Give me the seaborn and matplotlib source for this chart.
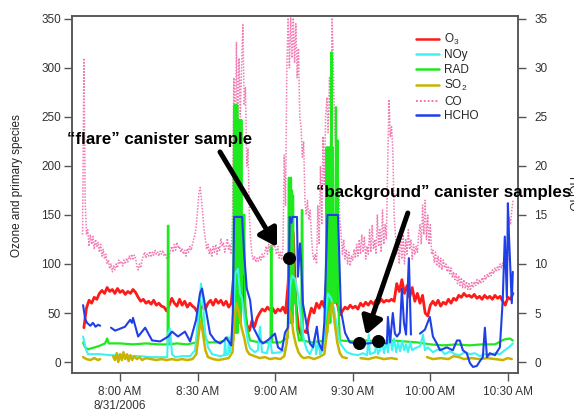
import numpy as np
import pandas as pd
import matplotlib
matplotlib.use('Agg')
import matplotlib.pyplot as plt
import matplotlib.dates as mdates
from matplotlib.lines import Line2D
import seaborn as sns

day = pd.Timestamp('2006-08-31 07:00')

# all times are minutes after 7:00 AM
# O3 (ppb), one value per minute from 7:46
o3_start = 46
o3 = [35, 55, 63, 60, 66, 64, 70, 73, 70, 76,
      72, 74, 70, 75, 71, 73, 69, 72, 70, 74,
      71, 66, 62, 64, 60, 62, 59, 63, 58, 60,
      57, 56, 52, 58, 65, 60, 57, 64, 58, 62,
      56, 60, 57, 55, 50, 53, 57, 54, 60, 63,
      58, 64, 60, 63, 58, 62, 56, 60, 90, 140,
      150, 120, 60, 38, 32, 42, 36, 45, 50, 54,
      52, 56, 53, 55, 50, 54, 52, 56, 50, 80,
      150, 130, 60, 35, 28, 32, 30, 45, 55, 50,
      60, 55, 62, 56, 90, 175, 160, 120, 60, 48,
      52, 56, 54, 58, 55, 57, 54, 60, 57, 61,
      58, 62, 59, 63, 60, 64, 61, 63, 62, 64,
      62, 80, 72, 84, 70, 78, 66, 76, 62, 70,
      60, 68, 50, 47, 58, 62, 58, 63, 57, 61,
      59, 64, 60, 65, 63, 68, 66, 70, 67, 68,
      66, 69, 65, 67, 64, 68, 65, 67, 64, 68,
      65, 67, 62, 58, 66, 64, 70]

# CO, one value every 30 s from 7:45:30
co_start = 45.5
co = [130, 310, 165, 130, 135, 118, 130, 120, 128, 115,
      125, 118, 122, 112, 120, 108, 115, 105, 110, 100,
      104, 95, 100, 92, 98, 94, 100, 96, 104, 100,
      103, 98, 104, 100, 106, 102, 108, 105, 110, 104,
      109, 106, 98, 94, 100, 96, 104, 108, 112, 106,
      110, 108, 113, 107, 112, 109, 114, 110, 112, 108,
      113, 110, 114, 108, 111, 106, 104, 108, 114, 118,
      112, 120, 114, 122, 116, 118, 112, 116, 110, 114,
      108, 116, 112, 118, 114, 120, 126, 130, 140, 155,
      172, 178, 165, 150, 135, 125, 115, 120, 110, 116,
      108, 118, 112, 120, 110, 118, 114, 126, 118, 122,
      112, 118, 126, 114, 120, 110, 150, 290, 210, 326,
      230, 310, 250, 300, 344, 262, 280, 200, 218, 150,
      125, 110, 104, 108, 102, 106, 103, 108, 104, 110,
      106, 112, 118, 110, 120, 112, 122, 114, 124, 116,
      110, 118, 106, 112, 104, 116, 211, 160, 300, 351,
      300, 351, 310, 351, 305, 345, 290, 320, 250, 240,
      209, 225, 165, 150, 165, 145, 155, 130, 110, 104,
      110, 100, 160, 120, 200, 140, 230, 180, 250, 270,
      234, 290, 240, 351, 300, 240, 209, 226, 180, 145,
      130, 110, 125, 105, 115, 100, 112, 98, 108, 104,
      115, 106, 120, 108, 125, 110, 130, 112, 128, 105,
      118, 110, 135, 112, 140, 115, 125, 110, 150, 118,
      135, 112, 155, 120, 140, 125, 200, 268, 230, 240,
      216, 150, 130, 110, 125, 100, 135, 105, 130, 100,
      125, 110, 135, 115, 125, 105, 120, 110, 118, 112,
      130, 140, 120, 160, 130, 165, 125, 150, 120, 140,
      110, 114, 102, 112, 98, 108, 96, 106, 94, 104,
      96, 100, 92, 98, 90, 96, 86, 92, 84, 90,
      80, 88, 78, 86, 76, 84, 75, 82, 74, 80,
      73, 81, 76, 82, 78, 84, 79, 84, 80, 86,
      82, 88, 84, 90, 86, 92, 88, 94, 90, 96,
      92, 98, 94, 100, 96, 101, 98, 104, 100, 104,
      148, 140, 155, 165]

noy_t = [45.7, 46.9, 47.6, 52.3, 56, 60, 64, 67.7, 72, 75.5,
         78.2, 78.6, 79.3, 80.1, 81.3, 84, 87.1, 89.0, 90.2, 91.3,
         92.1, 92.9, 94.0, 95.6, 98.7, 100.3, 100.6, 101.0, 101.8, 102.1,
         102.5, 103.7, 104.5, 105.6, 106.4, 107.2, 108.3, 109.5, 110.3, 112.2,
         113.3, 114.1, 114.9, 116.8, 118.0, 118.8, 121.8, 123.8, 124.9, 125.7,
         126.5, 127.7, 128.8, 130.0, 131.1, 132.3, 133.4, 134.6, 135.4, 135.8,
         136.9, 137.3, 138.5, 139.2, 140.4, 141.6, 142.7, 143.9, 145.0, 146.2,
         147.7, 149.7, 152.0, 153.9, 155.5, 156.2, 156.6, 158.6, 159.3, 159.7,
         160.5, 161.3, 162.1, 162.9, 163.6, 164.4, 165.2, 166.0, 166.8, 167.5,
         168.3, 169.1, 169.9, 170.6, 171.4, 172.2, 173.0, 174.0, 176.0, 177.2,
         177.9, 179.0, 181.0, 183.7, 185.6, 187.6, 189.5, 191.4, 193.3, 195.3,
         197.2, 199.2, 201.1, 203.0, 205.0, 206.9, 208.8, 210.8, 211.9]
noy = [26, 12, 8, 8, 7, 7, 6, 6, 5, 5,
       5, 30, 34, 8, 5, 6, 6, 12, 45, 80,
       60, 30, 15, 8, 6, 7, 22, 7, 8, 25,
       10, 40, 90, 95, 70, 65, 40, 20, 14, 10,
       12, 36, 10, 9, 24, 9, 10, 12, 30, 75,
       88, 85, 70, 45, 22, 12, 8, 15, 26, 8,
       22, 8, 12, 40, 70, 65, 55, 35, 20, 15,
       10, 8, 7, 9, 7, 28, 8, 10, 26, 8,
       12, 20, 9, 22, 10, 30, 12, 24, 10, 20,
       11, 22, 12, 18, 10, 20, 12, 14, 16, 28,
       12, 15, 10, 14, 8, 11, 8, 7, 10, 8,
       9, 6, 8, 7, 9, 8, 12, 16, 19]

rad_t = [45.7, 46.5, 47.6, 50.3, 52.5, 54.2, 55.0, 55.6, 60, 65,
         70, 75, 78.4, 78.5, 78.7, 78.8, 82, 86, 89.5, 90.5,
         90.9, 91.7, 92.9, 94.0, 98, 100.5, 101.5, 102.5, 103.8, 104.1,
         104.3, 104.5, 104.7, 104.9, 105.1, 105.3, 105.5, 105.7, 105.9, 106.1,
         106.3, 106.5, 106.7, 106.9, 107.1, 107.4, 107.7, 108.0, 108.4, 108.8,
         109.5, 110.3, 114, 118.2, 118.4, 118.6, 118.8, 122, 124.9, 125.3,
         125.5, 125.7, 125.9, 126.1, 126.3, 126.5, 126.7, 126.9, 127.2, 127.7,
         128.4, 129.2, 130.1, 130.3, 130.5, 130.7, 134, 137, 139.5, 139.9,
         140.1, 140.4, 140.7, 141.0, 141.3, 141.6, 141.8, 142.0, 142.3, 142.6,
         142.9, 143.3, 143.5, 143.8, 144.1, 144.4, 145.0, 150, 155, 160,
         165, 170, 175, 180, 185, 190, 195, 200, 205, 208.5,
         210.8, 211.9]
rad = [20, 15, 13, 15, 17, 19, 24, 19, 19, 18,
       19, 18, 18, 139, 139, 18, 19, 18, 20, 40,
       63, 40, 25, 20, 20, 22, 25, 20, 22, 262,
       30, 262, 30, 262, 30, 262, 30, 247, 40, 247,
       40, 247, 40, 247, 60, 150, 90, 150, 60, 40,
       30, 22, 20, 20, 117, 117, 20, 20, 25, 188,
       40, 180, 40, 188, 40, 175, 40, 170, 60, 80,
       35, 22, 22, 155, 155, 22, 20, 21, 22, 219,
       30, 219, 40, 219, 40, 240, 316, 60, 219, 60,
       150, 60, 260, 80, 226, 60, 22, 21, 22, 21,
       22, 21, 20, 18, 17, 18, 17, 18, 18, 23,
       24, 22]

so2_t = [45.7, 47.0, 48.5, 50.0, 51.5, 52.3, 54, 57.3, 58.0, 58.7,
         59.3, 60.0, 60.7, 61.3, 62.0, 62.7, 63.3, 64.0, 64.7, 65.5,
         66.5, 67.5, 68.5, 70, 72, 74, 76, 78, 80, 82,
         84, 86, 88, 89.5, 90.5, 91.2, 92.0, 93.0, 94.0, 96,
         98, 100, 102, 103.5, 104.3, 105.0, 106.0, 107.0, 108.0, 109.0,
         110.0, 112, 114, 116, 118, 120, 122, 123.5, 124.5, 125.5,
         126.3, 127.0, 128.0, 129.0, 130.0, 131, 133, 135, 137, 139,
         140, 141, 142, 143, 144, 145, 146, 147.7, 150, 153,
         156, 159, 162, 165, 167, 172, 178.7, 181, 184, 187,
         189, 191, 193, 196, 199, 202, 205, 208, 210, 211.5]
so2 = [5, 3, 2, 4, 2, 3, None, 6, 2, 9,
       0, 8, 2, 10, 3, 8, 1, 7, 2, 6,
       3, 5, 2, 4, 3, 2, 3, 2, 3, 2,
       3, 2, 3, 8, 30, 42, 30, 12, 5, 3,
       2, 3, 4, 10, 45, 60, 50, 35, 25, 12,
       8, 6, 4, 5, 3, 4, 3, 6, 20, 53,
       46, 30, 18, 10, 6, 4, 5, 3, 5, 8,
       30, 50, 60, 40, 20, 9, 5, 4, None, 4,
       3, 5, 3, 4, 3, None, 5, 3, 4, 3,
       6, 5, 3, 4, 3, 4, 3, 2, 4, 3]

# HCHO on the right axis
hcho_t = [45.7, 46.5, 47.2, 48.5, 49.5, 50.5, 51.5, 52.3, 54, 56.5,
          58.1, 60.0, 61.9, 63.9, 64.6, 65.0, 67.0, 69.7, 72.4, 75.5,
          78.6, 80.1, 82.4, 85.1, 87.1, 89.4, 90.9, 91.7, 93.2, 94.8,
          96.7, 98.7, 100.2, 101.0, 102.5, 103.0, 103.6, 104.1, 107.2, 108.0,
          109.0, 110.3, 111.4, 114.1, 115.3, 117.5, 119.9, 121.1, 122.6, 123.8,
          124.9, 125.6, 126.3, 126.6, 128.4, 128.8, 129.6, 130.0, 130.7, 132.3,
          133.4, 134.6, 136.1, 136.8, 138.1, 139.0, 140.2, 144.3, 145.4, 147.0,
          148.9, 152.0, 156.0, 160.0, 163.2, 163.6, 164.4, 165.5, 166.3, 167.1,
          168.2, 169.0, 169.8, 170.6, 171.7, 172.5, 174, 176.0, 177.9, 179.8,
          181.0, 182.5, 183.7, 186.4, 188.7, 190.3, 191.4, 192.6, 194.1, 195.3,
          196.5, 198.0, 199.2, 200.3, 201.1, 201.9, 203.0, 205.0, 206.9, 208.0,
          208.8, 209.6, 210.0, 210.4, 211.5, 211.9]
hcho = [5.8, 4.4, 4.0, 3.7, 4.0, 3.6, 3.8, 3.7, None, 3.5,
        3.2, 3.4, 3.6, 4.3, 4.0, 4.5, 2.6, 3.5, 2.2, 2.1,
        2.6, 3.1, 2.6, 3.1, 2.1, 4.3, 7.0, 7.5, 5.3, 2.9,
        2.2, 1.9, 2.2, 2.5, 1.9, 1.7, 5.0, 14.8, 14.8, 11.0,
        7.5, 6.3, 3.6, 2.2, 1.9, 2.3, 2.9, 1.5, 1.2, 3.0,
        3.5, 14.8, 14.2, 14.8, 14.8, 8.7, 12.1, 10.5, 6.0, 3.6,
        1.9, 1.5, 3.6, 2.0, 1.2, 4.0, 15.0, 15.0, 5.3, 3.0,
        2.0, 1.9, 1.9, 2.0, 1.9, 4.6, 2.0, 5.0, 2.9, 2.6,
        3.0, 7.5, 4.0, 2.8, 10.6, 2.8, None, 2.9, 3.3, 4.6,
        2.6, 1.9, 1.2, 1.5, 1.2, 2.2, 2.2, 1.2, 0.9, -0.1,
        -0.5, -0.4, 0.1, 0.5, 3.5, 0.5, 0.9, 0.7, 1.5, 6.3,
        12.8, 6.6, 16.2, 13.0, 6.0, 9.2]

# canister samples (black dots, on the HCHO scale)
sample_t = [125.4, 152.4, 159.6]
sample_hcho = [10.6, 1.94, 2.17]

tick_min = [60, 90, 120, 150, 180, 210]
tick_labels = ['8:00 AM\n8/31/2006', '8:30 AM', '9:00 AM', '9:30 AM',
               '10:00 AM', '10:30 AM']


def frame(minutes, values):
    df = pd.DataFrame({'minute': minutes, 'value': values}, dtype=float)
    df['seg'] = df['value'].isna().cumsum()
    df = df.dropna()
    df['time'] = day + pd.to_timedelta(df['minute'], unit='min')
    return df


def tnum(m):
    return mdates.date2num(day + pd.Timedelta(minutes=m))


sns.set_style('white')
plt.rcParams['font.family'] = ['Liberation Sans', 'DejaVu Sans']
plt.rcParams['mathtext.default'] = 'regular'

colors = {'O3': '#ff1a1a', 'NOy': '#3ff2f2', 'RAD': '#1ee81e',
          'SO2': '#c8b400', 'CO': '#f27bb3', 'HCHO': '#1f3fe8'}

fig, ax = plt.subplots(figsize=(5.74, 4.09), dpi=100)
fig.subplots_adjust(left=0.1254, right=0.9024, bottom=0.088, top=0.961)
ax2 = ax.twinx()

co_df = frame(co_start + 0.5 * np.arange(len(co)), co)
sns.lineplot(data=co_df, x='time', y='value', units='seg', estimator=None,
             color=colors['CO'], lw=1.1, linestyle=(0, (1, 1)), ax=ax, legend=False)
o3_df = frame(o3_start + np.arange(len(o3)), o3)
sns.lineplot(data=o3_df, x='time', y='value', units='seg', estimator=None,
             color=colors['O3'], lw=2.0, ax=ax, legend=False)
sns.lineplot(data=frame(rad_t, rad), x='time', y='value', units='seg', estimator=None,
             color=colors['RAD'], lw=1.6, ax=ax, legend=False)
sns.lineplot(data=frame(noy_t, noy), x='time', y='value', units='seg', estimator=None,
             color=colors['NOy'], lw=1.5, ax=ax, legend=False)
sns.lineplot(data=frame(so2_t, so2), x='time', y='value', units='seg', estimator=None,
             color=colors['SO2'], lw=1.8, ax=ax, legend=False)

sns.lineplot(data=frame(hcho_t, hcho), x='time', y='value', units='seg', estimator=None,
             color=colors['HCHO'], lw=1.5, ax=ax2, legend=False)
samp = frame(sample_t, sample_hcho)
sns.scatterplot(data=samp, x='time', y='value', color='black', s=75,
                edgecolor='black', ax=ax2, legend=False, zorder=5)

# axes
ax.set_xlim(day + pd.Timedelta(minutes=41.4), day + pd.Timedelta(minutes=213.9))
ax.set_ylim(-11.2, 353)
ax2.set_ylim(-1.12, 35.3)
ax.set_xticks([day + pd.Timedelta(minutes=m) for m in tick_min])
ax.set_xticklabels(tick_labels)
ax.set_yticks(range(0, 351, 50))
ax2.set_yticks(range(0, 36, 5))
ax.set_xlabel('')
ax2.set_xlabel('')

tick_col = '#333333'
ax.tick_params(axis='x', direction='out', length=5.5, width=1, color='#555555',
               labelsize=8.5, labelcolor=tick_col, pad=4, bottom=True)
ax.tick_params(axis='y', direction='out', length=5.8, width=1, color='#555555',
               labelsize=8.5, labelcolor=tick_col, pad=2, left=True)
ax2.tick_params(axis='y', direction='out', length=5.8, width=1, color='#555555',
                labelsize=8.5, labelcolor=tick_col, pad=6, right=True)
for a in (ax, ax2):
    for sp in a.spines.values():
        sp.set_color('#555555')
        sp.set_linewidth(1.1)
        sp.set_visible(True)

ax.set_ylabel('Ozone and primary species', fontsize=8.5, color='#222222')
ax.yaxis.set_label_coords(-0.11, 0.525)
ax2.set_ylabel('HCHO', fontsize=8.5, color='#222222', rotation=270, va='bottom')
ax2.yaxis.set_label_coords(1.105, 0.5)

# annotations (positions in minutes and left-axis units)
ax2.text(tnum(75.1), 222.4, '\u201cflare\u201d canister sample', transform=ax.transData,
         ha='center', va='baseline', fontsize=12.2, fontweight='bold', color='black')
ax2.text(tnum(185.3), 168.4, '\u201cbackground\u201d canister samples', transform=ax.transData,
         ha='center', va='baseline', fontsize=12.2, fontweight='bold', color='black')
arrow = dict(arrowstyle='-|>,head_length=0.75,head_width=0.45', lw=3.6, color='black',
             shrinkA=0, shrinkB=0, mutation_scale=14)
ax2.annotate('', xy=(tnum(120.7), 117.3), xytext=(tnum(98.65), 214.3),
             xycoords=ax.transData, textcoords=ax.transData, arrowprops=arrow)
ax2.annotate('', xy=(tnum(155.1), 27.6), xytext=(tnum(171.3), 152),
             xycoords=ax.transData, textcoords=ax.transData, arrowprops=arrow)

handles = [Line2D([], [], color=colors['O3'], lw=1.8),
           Line2D([], [], color=colors['NOy'], lw=1.8),
           Line2D([], [], color=colors['RAD'], lw=1.8),
           Line2D([], [], color=colors['SO2'], lw=1.8),
           Line2D([], [], color=colors['CO'], lw=1.4, linestyle=(0, (1, 1))),
           Line2D([], [], color=colors['HCHO'], lw=1.8)]
labels = ['O$_3$', 'NOy', 'RAD', 'SO$_2$', 'CO', 'HCHO']
ax2.legend(handles, labels, loc='upper left', bbox_to_anchor=(0.772, 0.955),
           frameon=False, fontsize=8.5, borderpad=0, borderaxespad=0,
           handlelength=1.9, handletextpad=0.45, labelspacing=0.2)

fig.savefig('out.png', dpi=100)
